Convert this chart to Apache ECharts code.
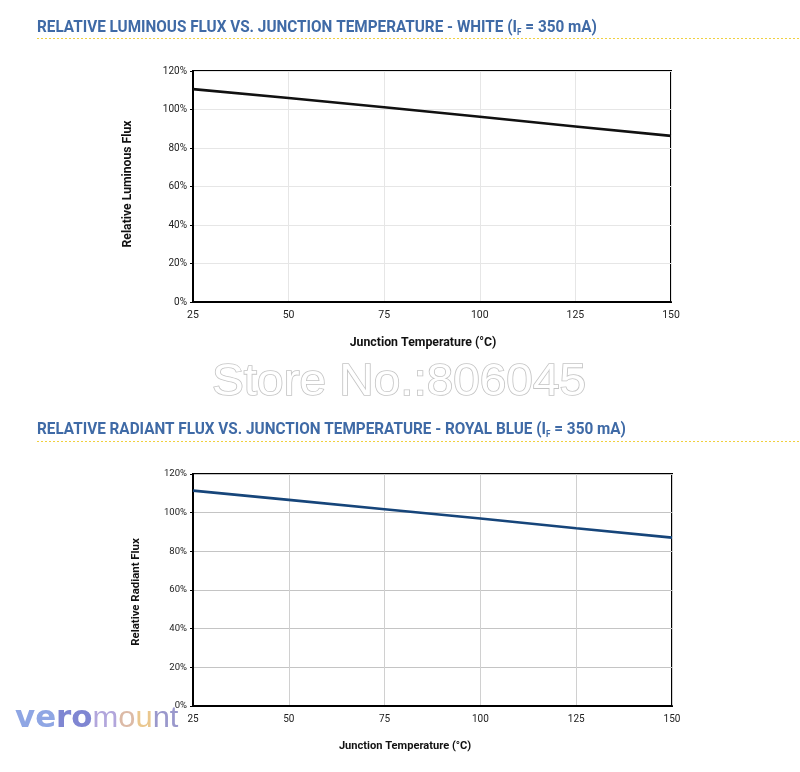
<!DOCTYPE html>
<html><head><meta charset="utf-8">
<script src="https://cdn.jsdelivr.net/npm/echarts@6/dist/echarts.min.js"></script>
<style>html,body{margin:0;padding:0;background:#fff}#c{width:800px;height:772px}</style>
</head><body><div id="c"></div>
<script>
const temps = [25, 50, 75, 100, 125, 150];
const whiteFlux = [110.6, 106.0, 101.2, 96.2, 91.2, 86.3];
const blueFlux = [111.4, 106.6, 101.8, 97.0, 91.9, 87.1];
const xTicks = [25, 50, 75, 100, 125, 150];
const yTicks = [0, 20, 40, 60, 80, 100, 120];

const chart = echarts.init(document.getElementById('c'), null, {renderer: 'canvas'});
const titleColor = '#3f6aa6';
function yAxis(idx, fs) {
  return {
    gridIndex: idx, type: 'value', min: 0, max: 120, interval: 20,
    axisLine: {show: true, lineStyle: {color: '#000', width: 2}},
    axisTick: {show: true, length: 3, lineStyle: {color: '#000'}},
    axisLabel: {formatter: v => yTicks.includes(v) ? v + '%' : '', fontSize: fs, color: '#222', fontFamily: 'Roboto', margin: 6},
    splitLine: {show: true, lineStyle: {color: idx === 0 ? '#e6e6e6' : '#c4c4c4', width: 1}}
  };
}
function xAxis(idx, fs) {
  return {
    gridIndex: idx, type: 'value', min: 25, max: 150, interval: 25,
    axisLine: {show: true, lineStyle: {color: '#000', width: 2}},
    axisTick: {show: false},
    axisLabel: {formatter: v => xTicks.includes(v) ? String(v) : '', fontSize: fs, color: '#222', fontFamily: 'Roboto', margin: 8},
    splitLine: {show: true, lineStyle: {color: idx === 0 ? '#e6e6e6' : '#d0d0d0', width: 1}}
  };
}
const titleRich = {
  t: {fontSize: 17, fontWeight: 'bold', fontFamily: 'Roboto', fill: titleColor},
  s: {fontSize: 9, fontWeight: 'bold', fontFamily: 'Roboto', fill: titleColor, padding: [9, 0, 0, 0]}
};
const option = {
  animation: false,
  grid: [
    {left: 193, top: 71, width: 478, height: 231, show: true, borderColor: '#000', borderWidth: 2, backgroundColor: 'transparent'},
    {left: 193, top: 474, width: 479, height: 232, show: true, borderColor: '#000', borderWidth: 2, backgroundColor: 'transparent'}
  ],
  xAxis: [xAxis(0, 10.5), xAxis(1, 10)],
  yAxis: [yAxis(0, 10), yAxis(1, 9.5)],
  series: [
    {type: 'line', xAxisIndex: 0, yAxisIndex: 0, data: temps.map((t, i) => [t, whiteFlux[i]]), symbol: 'none', lineStyle: {color: '#111', width: 2.6}},
    {type: 'line', xAxisIndex: 1, yAxisIndex: 1, data: temps.map((t, i) => [t, blueFlux[i]]), symbol: 'none', lineStyle: {color: '#16457a', width: 2.6}}
  ],
  graphic: [
    {type: 'text', x: 37, y: 19, scaleX: 0.9, style: {rich: titleRich,
      text: '{t|RELATIVE LUMINOUS FLUX VS. JUNCTION TEMPERATURE - WHITE (I}{s|F}{t| = 350 mA)}'}},
    {type: 'line', shape: {x1: 37, y1: 38.5, x2: 800, y2: 38.5}, style: {stroke: '#f0d040', lineWidth: 1, lineDash: [2, 2]}},
    {type: 'text', x: 37, y: 421, scaleX: 0.9, style: {rich: titleRich,
      text: '{t|RELATIVE RADIANT FLUX VS. JUNCTION TEMPERATURE - ROYAL BLUE (I}{s|F}{t| = 350 mA)}'}},
    {type: 'line', shape: {x1: 37, y1: 441.5, x2: 800, y2: 441.5}, style: {stroke: '#f0d040', lineWidth: 1, lineDash: [2, 2]}},
    {type: 'text', x: 423, y: 343, style: {text: 'Junction Temperature (°C)', fontSize: 12.3, fontWeight: 'bold', fontFamily: 'Roboto', fill: '#111', align: 'center', verticalAlign: 'middle'}},
    {type: 'text', x: 405, y: 746, style: {text: 'Junction Temperature (°C)', fontSize: 11.1, fontWeight: 'bold', fontFamily: 'Roboto', fill: '#111', align: 'center', verticalAlign: 'middle'}},
    {type: 'text', x: 128, y: 184, rotation: Math.PI / 2, style: {text: 'Relative Luminous Flux', fontSize: 12.2, fontWeight: 'bold', fontFamily: 'Roboto', fill: '#111', align: 'center', verticalAlign: 'middle'}},
    {type: 'text', x: 136, y: 592, rotation: Math.PI / 2, style: {text: 'Relative Radiant Flux', fontSize: 11.4, fontWeight: 'bold', fontFamily: 'Roboto', fill: '#111', align: 'center', verticalAlign: 'middle'}},
    {type: 'text', x: 399, y: 383, scaleX: 1.06, style: {text: 'Store No.:806045', fontSize: 45, fontFamily: 'Liberation Sans', fill: '#ffffff', stroke: '#c4c4c4', lineWidth: 1.6, align: 'center', verticalAlign: 'middle'}},
    {type: 'text', x: 15, y: 704, scaleX: 1.03, style: {
      rich: {
        a: {fontSize: 30, fontWeight: 900, fontFamily: 'DejaVu Sans', fill: '#8fa6e4'},
        b: {fontSize: 30, fontWeight: 900, fontFamily: 'DejaVu Sans', fill: '#7f86d2'},
        c: {fontSize: 30, fontWeight: 'normal', fontFamily: 'Liberation Sans', fill: '#b2a6dc'},
        d: {fontSize: 30, fontWeight: 'normal', fontFamily: 'Liberation Sans', fill: '#dcbaa6'},
        e: {fontSize: 30, fontWeight: 'normal', fontFamily: 'Liberation Sans', fill: '#eac78e'},
        f: {fontSize: 30, fontWeight: 'normal', fontFamily: 'Liberation Sans', fill: '#9a98cc'}
      },
      text: '{a|ve}{b|ro}{c|m}{d|o}{e|u}{f|nt}'}}
  ]
};
chart.setOption(option);
</script></body></html>
